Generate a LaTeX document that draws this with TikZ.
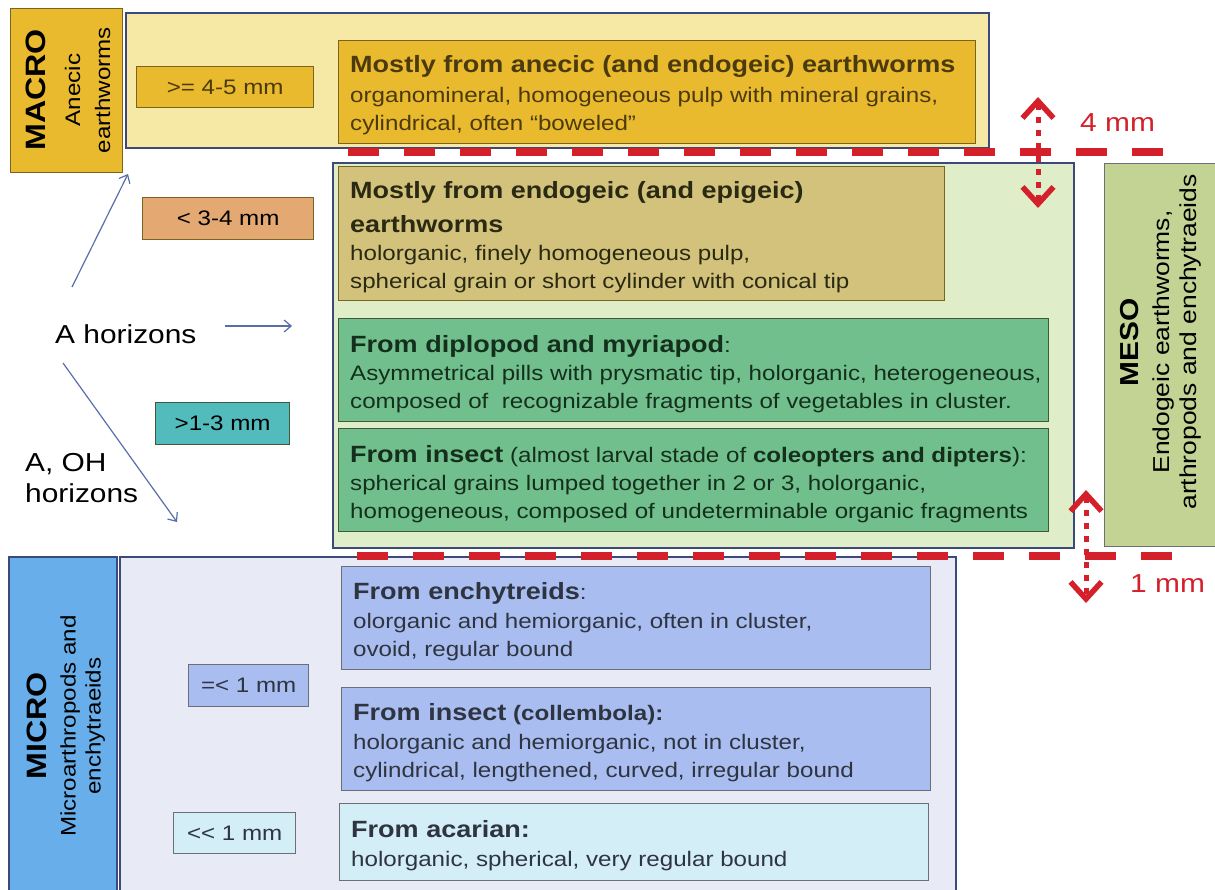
\documentclass[tikz,border=0pt]{standalone}
\usepackage{fontspec}
\setmainfont{Liberation Sans}[FakeStretch=1.15]
\usetikzlibrary{arrows.meta}
\definecolor{navy}{HTML}{3B4A7A}
\definecolor{cgold}{HTML}{E9B92E}
\definecolor{goldline}{HTML}{7A6420}
\definecolor{paleyellow}{HTML}{F6E9A5}
\definecolor{khaki}{HTML}{D3C27C}
\definecolor{midgreen}{HTML}{72BF8E}
\definecolor{greenline}{HTML}{3E5A3A}
\definecolor{palegreen}{HTML}{DFEDC8}
\definecolor{olivegreen}{HTML}{C3D394}
\definecolor{skyblue}{HTML}{68AEEA}
\definecolor{palelav}{HTML}{E8EAF6}
\definecolor{lavblue}{HTML}{A9BDF0}
\definecolor{palecyan}{HTML}{D3EEF6}
\definecolor{grayline}{HTML}{6A6F7A}
\definecolor{ctan}{HTML}{E4A873}
\definecolor{cteal}{HTML}{52BCBD}
\definecolor{redd}{HTML}{D3202A}
\definecolor{arrowblue}{HTML}{5A6EAA}
\definecolor{txtbrown}{HTML}{4A3A0E}
\definecolor{txtolive}{HTML}{2A2A12}
\definecolor{txtgreen}{HTML}{14301C}
\definecolor{txtgray}{HTML}{2E3440}
\newcommand\bodyfont{\fontsize{21}{28}\selectfont}
\newcommand\ttlfont{\fontsize{23.5}{28}\selectfont\bfseries}
\begin{document}
\begin{tikzpicture}[x=1pt,y=-1pt,
  area/.style={draw=navy, line width=2.4pt, anchor=north west, inner sep=0pt},
  plainbox/.style={line width=1.3pt, anchor=north west, inner sep=0pt},
  txt/.style={anchor=west, align=left, inner sep=0pt, font=\bodyfont},
  sizebox/.style={draw=goldline, line width=1.3pt, inner sep=0pt, font=\bodyfont, anchor=north west},
  sidetxt/.style={align=center, inner sep=0pt, rotate=90},
  reddash/.style={draw=redd, line width=8pt, dash pattern=on 31pt off 25pt},
  reddot/.style={draw=redd, line width=5pt, dash pattern=on 6pt off 7pt,
     {Straight Barb[length=17pt,width=31pt,line width=5.5pt]}-{Straight Barb[length=17pt,width=31pt,line width=5.5pt]}},
  bluearrow/.style={draw=arrowblue, line width=1.2pt, -{Straight Barb[length=7pt,width=12pt,line width=1.2pt]}},
  redlabel/.style={text=redd, font=\fontsize{26}{30}\selectfont, anchor=base west, inner sep=0pt},
  horlabel/.style={font=\fontsize{26}{31}\selectfont, inner sep=0pt, text=black}
]
\useasboundingbox (0,0) rectangle (1215,890);
\clip (0,0) rectangle (1215,890);
\fill[white] (0,0) rectangle (1215,890);

% ---------- MACRO ----------
\node[area, fill=paleyellow, minimum width=863pt, minimum height=135pt] (macroarea) at (125,12) {};
\node[plainbox, draw=goldline, fill=cgold, minimum width=112pt, minimum height=164pt] (macrobox) at (10,8) {};
\node[sidetxt, font=\fontsize{21}{30}\selectfont] (macrotxt) at (68,90)
  {{\fontsize{28}{30}\selectfont\bfseries MACRO}\\[5pt]Anecic\\earthworms};
\node[sizebox, fill=cgold, minimum width=177pt, minimum height=41pt, text=txtbrown] (s45) at (136,66) {>= 4-5 mm};
\node[plainbox, draw=goldline, fill=cgold, minimum width=637pt, minimum height=103pt] (anecic) at (338,40) {};
\node[txt, text=txtbrown] (anecictxt) at ([xshift=12pt,yshift=-3pt]anecic.west)
  {{\ttlfont Mostly from anecic (and endogeic) earthworms}\\[2pt]
   organomineral, homogeneous pulp with mineral grains,\\
   cylindrical, often “boweled”};

% ---------- MESO ----------
\node[area, fill=palegreen, minimum width=741pt, minimum height=385pt] (mesoarea) at (332,162) {};
\node[plainbox, draw=goldline, fill=khaki, minimum width=606pt, minimum height=134pt] (endo) at (338,166) {};
\node[txt, text=txtolive] (endotxt) at ([xshift=12pt,yshift=-4pt]endo.west)
  {{\ttlfont Mostly from endogeic (and epigeic)}\\[6pt]
   {\ttlfont earthworms}\\
   holorganic, finely homogeneous pulp,\\
   spherical grain or short cylinder with conical tip};
\node[plainbox, draw=greenline, fill=midgreen, minimum width=710pt, minimum height=103pt] (diplo) at (338,318) {};
\node[txt, text=txtgreen] (diplotxt) at ([xshift=12pt,yshift=-4pt]diplo.west)
  {{\ttlfont From diplopod and myriapod}:\\
   Asymmetrical pills with prysmatic tip, holorganic, heterogeneous,\\
   composed of\ \ recognizable fragments of vegetables in cluster.};
\node[plainbox, draw=greenline, fill=midgreen, minimum width=710pt, minimum height=103pt] (insect) at (338,428) {};
\node[txt, text=txtgreen] (insecttxt) at ([xshift=12pt,yshift=-4pt]insect.west)
  {{\ttlfont From insect} (almost larval stade of {\bfseries coleopters and dipters}):\\
   spherical grains lumped together in 2 or 3, holorganic,\\
   homogeneous, composed of undeterminable organic fragments};
\node[plainbox, draw=grayline, fill=olivegreen, minimum width=130pt, minimum height=383pt] (mesobox) at (1104,163) {};
\node[sidetxt, font=\fontsize{23}{27}\selectfont] (mesotxt) at (1161,342)
  {{\fontsize{26}{30}\selectfont\bfseries MESO}\\[4pt]Endogeic earthworms,\\arthropods and enchytraeids};

% ---------- MICRO ----------
\node[area, fill=palelav, minimum width=836pt, minimum height=350pt] (microarea) at (119,556) {};
\node[plainbox, draw=navy, line width=1.5pt, fill=skyblue, minimum width=108pt, minimum height=350pt] (microbox) at (8,556) {};
\node[sidetxt, font=\fontsize{21}{25}\selectfont] (microtxt) at (66,726)
  {{\fontsize{28}{30}\selectfont\bfseries MICRO}\\[4pt]Microarthropods and\\enchytraeids};
\node[plainbox, draw=grayline, fill=lavblue, minimum width=589pt, minimum height=103pt] (enchy) at (341,566) {};
\node[txt, text=txtgray] (enchytxt) at ([xshift=12pt,yshift=-4pt]enchy.west)
  {{\ttlfont From enchytreids}:\\[1pt]
   olorganic and hemiorganic, often in cluster,\\
   ovoid, regular bound};
\node[plainbox, draw=grayline, fill=lavblue, minimum width=589pt, minimum height=103pt] (colle) at (341,687) {};
\node[txt, text=txtgray] (colletxt) at ([xshift=12pt,yshift=-4pt]colle.west)
  {{\ttlfont From insect} {\bfseries (collembola):}\\[1pt]
   holorganic and hemiorganic, not in cluster,\\
   cylindrical, lengthened, curved, irregular bound};
\node[plainbox, draw=grayline, fill=palecyan, minimum width=589pt, minimum height=77pt] (acar) at (339,803) {};
\node[txt, text=txtgray] (acartxt) at ([xshift=12pt,yshift=-4pt]acar.west)
  {{\ttlfont From acarian:}\\[1pt]
   holorganic, spherical, very regular bound};

% ---------- size boxes ----------
\node[sizebox, fill=ctan, minimum width=171pt, minimum height=42pt] (s34) at (142,197) {< 3-4 mm};
\node[sizebox, draw=greenline, fill=cteal, minimum width=134pt, minimum height=42pt] (s13) at (155,402) {>1-3 mm};
\node[sizebox, draw=grayline, fill=lavblue, minimum width=120pt, minimum height=42pt, text=txtgray] (s1) at (188,664) {=< 1 mm};
\node[sizebox, draw=grayline, fill=palecyan, minimum width=122pt, minimum height=41pt, text=txtgray] (s11) at (173,812) {<{}< 1 mm};

% ---------- horizons ----------
\node[horlabel, anchor=base west] (ahor) at (55,344) {A horizons};
\node[horlabel, anchor=north west, align=left] (aoh) at (25,453) {A, OH\\horizons};
\coordinate (up0) at (72,287);
\coordinate (up1) at (128,174);
\coordinate (mid0) at (225,326);
\coordinate (mid1) at (292,326);
\coordinate (dn0) at (63,363);
\coordinate (dn1) at (177,522);
\draw[bluearrow] (up0) -- (up1);
\draw[bluearrow] (mid0) -- (mid1);
\draw[bluearrow] (dn0) -- (dn1);

% ---------- red limits ----------
\coordinate (d1a) at (348,152);
\coordinate (d1b) at (1163,152);
\coordinate (d2a) at (357,556);
\coordinate (d2b) at (1172,556);
\draw[reddash] (d1a) -- (d1b);
\draw[reddash] (d2a) -- (d2b);
\coordinate (r1t) at (1038,97);
\coordinate (r1b) at (1038,208);
\coordinate (r2t) at (1086,490);
\coordinate (r2b) at (1086,603);
\draw[reddot] (r1t) -- (r1b);
\draw[reddot] (r2t) -- (r2b);
\node[redlabel] (mm4) at (1080,132) {4 mm};
\node[redlabel] (mm1) at (1130,592) {1 mm};
\end{tikzpicture}
\end{document}
